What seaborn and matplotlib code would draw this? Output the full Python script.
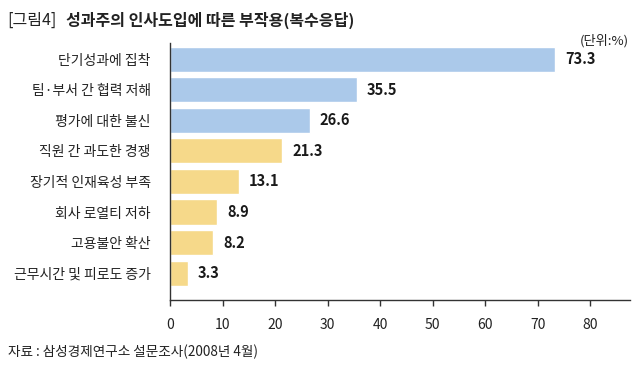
import pandas as pd
import seaborn as sns
import matplotlib.pyplot as plt

# Survey answers (multiple response), unit: %
labels = ['단기성과에 집착', '팀·부서 간 협력 저해', '평가에 대한 불신', '직원 간 과도한 경쟁',
          '장기적 인재육성 부족', '회사 로열티 저하', '고용불안 확산', '근무시간 및 피로도 증가']
values = [73.3, 35.5, 26.6, 21.3, 13.1, 8.9, 8.2, 3.3]
groups = ['top', 'top', 'top', 'rest', 'rest', 'rest', 'rest', 'rest']
xticks = [0, 10, 20, 30, 40, 50, 60, 70, 80]

sns.set_theme(style='white')
plt.rcParams['font.family'] = ['Noto Sans CJK KR', 'DejaVu Sans']

df = pd.DataFrame({'label': labels, 'value': values, 'group': groups})

fig = plt.figure(figsize=(6.4, 3.7), dpi=100)
ax = fig.add_axes([0.266, 0.189, 0.718, 0.695])

sns.barplot(data=df, x='value', y='label', hue='group', dodge=False,
            palette={'top': '#abc9ea', 'rest': '#f6d98a'}, saturation=1,
            width=0.82, legend=False, ax=ax, orient='h')

for i, v in enumerate(values):
    ax.text(v + 1.9, i, f'{v:.1f}', va='center', ha='left', fontsize=10.5,
            fontweight='bold', color='#1a1a1a')

ax.set_xlim(0, 87.5)
ax.set_ylim(7.885, -0.54)
ax.set_xticks(xticks)
ax.set_xlabel('')
ax.set_ylabel('')
ax.tick_params(axis='x', bottom=True, direction='out', length=4, width=1,
               color='#333333', labelsize=10, pad=9, labelcolor='#222222')
ax.tick_params(axis='y', left=False, labelsize=10, pad=8, labelcolor='#222222')
for s in ['top', 'right']:
    ax.spines[s].set_visible(False)
for s in ['left', 'bottom']:
    ax.spines[s].set_color('#333333')
    ax.spines[s].set_linewidth(1)

fig.text(0.012, 0.945, '[그림4]', fontsize=11.5, color='#222222', va='center')
fig.text(0.103, 0.945, '성과주의 인사도입에 따른 부작용(복수응답)', fontsize=11.5,
         fontweight='bold', color='#222222', va='center')
fig.text(0.983, 0.89, '(단위:%)', fontsize=9.5, color='#222222', ha='right', va='center')
fig.text(0.012, 0.048, '자료 : 삼성경제연구소 설문조사(2008년 4월)', fontsize=9.8,
         color='#222222', va='center')

fig.savefig('out.png', dpi=100)
